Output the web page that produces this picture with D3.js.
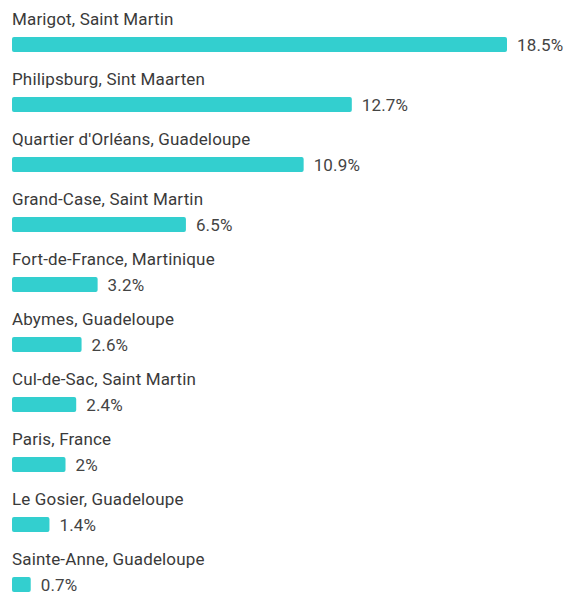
<!DOCTYPE html>
<html>
<head>
<meta charset="utf-8">
<script src="https://cdn.jsdelivr.net/npm/d3@7"></script>
<style>
  body { margin: 0; background: #fff; }
  svg { display: block; font-family: Roboto, "Noto Sans", sans-serif; }
</style>
</head>
<body>
<div id="chart"></div>
<script>
const cities = [
  "Marigot, Saint Martin",
  "Philipsburg, Sint Maarten",
  "Quartier d'Orléans, Guadeloupe",
  "Grand-Case, Saint Martin",
  "Fort-de-France, Martinique",
  "Abymes, Guadeloupe",
  "Cul-de-Sac, Saint Martin",
  "Paris, France",
  "Le Gosier, Guadeloupe",
  "Sainte-Anne, Guadeloupe"
];
const shares = [18.5, 12.7, 10.9, 6.5, 3.2, 2.6, 2.4, 2, 1.4, 0.7];

const width = 573, height = 596;
const marginLeft = 12, rowH = 60, marginTop = 0;

const svg = d3.select('#chart')
  .append('svg')
  .attr('width', width)
  .attr('height', height);

const x = d3.scaleLinear()
  .domain([0, d3.max(shares)])
  .range([0, 495]);

const y = d3.scaleBand()
  .domain(cities)
  .range([marginTop, marginTop + rowH * cities.length]);

const rows = svg.selectAll('g.row')
  .data(cities.map((c, i) => ({ city: c, v: shares[i] })))
  .join('g')
  .attr('class', 'row')
  .attr('transform', d => 'translate(' + marginLeft + ',' + y(d.city) + ')');

// city name above each bar
rows.append('text')
  .attr('x', 0)
  .attr('y', 25)
  .attr('font-size', 17)
  .attr('letter-spacing', 0.15)
  .attr('fill', '#3a3a3a')
  .text(d => d.city);

rows.append('rect')
  .attr('x', 0)
  .attr('y', 37)
  .attr('height', 15)
  .attr('width', d => x(d.v))
  .attr('rx', 2)
  .attr('fill', '#33CFCF');

// value label right of the bar
rows.append('text')
  .attr('x', d => x(d.v) + 10)
  .attr('y', 51)
  .attr('font-size', 17)
  .attr('letter-spacing', 0.15)
  .attr('fill', '#444')
  .text(d => d.v + '%');
</script>
</body>
</html>
